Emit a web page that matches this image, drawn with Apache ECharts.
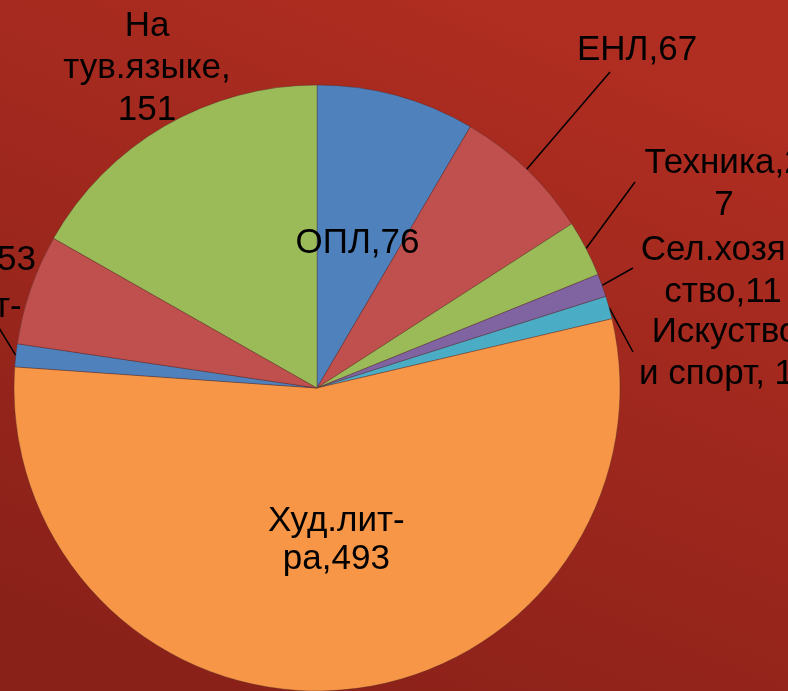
<!DOCTYPE html>
<html>
<head>
<meta charset="utf-8">
<script src="https://cdn.jsdelivr.net/npm/echarts@6/dist/echarts.min.js"></script>
<style>
  html, body { margin: 0; padding: 0; }
  #chart { width: 788px; height: 691px; }
</style>
</head>
<body>
<div id="chart"></div>
<script>
// Book fund by section
const categories = ['ОПЛ', 'ЕНЛ', 'Техника', 'Сел.хозяйство', 'Искуство и спорт', 'Худ.лит-ра', 'Справ.лит-ра', 'Дет.лит-ра', 'На тув.языке'];
const values = [76, 67, 27, 11, 11, 493, 11, 53, 151];
const separators = [',', ',', ',', ',', ', ', ',', ',', ',', ','];
// character positions where each label text wraps onto a new line
const wrapAt = [[], [], [9], [9], [8], [8], [10], [], [2, 13]];

const colors = ['#4F81BD', '#C0504D', '#9BBB59', '#8064A2', '#4BACC6', '#F79646', '#4F81BD', '#C0504D', '#9BBB59'];

function labelText(i) {
  const s = categories[i] + separators[i] + values[i];
  const cuts = [0].concat(wrapAt[i], [s.length]);
  const lines = [];
  for (let k = 0; k < cuts.length - 1; k++) lines.push(s.slice(cuts[k], cuts[k + 1]).trim());
  return lines.join('\n');
}

// placement of the outside labels: label anchor and end of the leader line
const outside = {
  1: { x: 637, y: 50, align: 'center', end: [610, 72] },
  2: { x: 724, y: 184, align: 'center', end: [635, 182] },
  3: { x: 723, y: 271, align: 'center', end: [633, 268] },
  4: { x: 725, y: 353, align: 'center', end: [633, 352] },
  6: { x: -68, y: 328, align: 'center', end: [-4, 323] },
  7: { x: 36, y: 260, align: 'right', end: null },
  8: { x: 147, y: 68, align: 'center', end: null }
};
// small nudges for the labels drawn inside their slices
const inside = {
  0: { dx: 0, dy: 4 },
  5: { dx: 7, dy: -2 }
};

const chart = echarts.init(document.getElementById('chart'), null, { renderer: 'canvas' });

const data = values.map((v, i) => {
  const isInside = inside[i] !== undefined;
  const hasLine = !isInside && outside[i] && outside[i].end;
  return {
    name: categories[i],
    value: v,
    itemStyle: { color: colors[i] },
    label: { position: isInside ? 'inside' : 'outside', lineHeight: isInside ? 38 : 42 },
    labelLine: { show: !!hasLine }
  };
});

chart.setOption({
  animation: false,
  backgroundColor: {
    type: 'linear', x: 0.65, y: 0, x2: 0.3, y2: 1,
    colorStops: [
      { offset: 0, color: '#B02D21' },
      { offset: 1, color: '#8A2119' }
    ]
  },
  series: [{
    type: 'pie',
    center: [317, 388],
    radius: 303,
    startAngle: 90,
    clockwise: true,
    avoidLabelOverlap: false,
    data: data,
    itemStyle: { borderColor: 'rgba(70,40,40,0.45)', borderWidth: 0.8 },
    label: {
      show: true,
      formatter: p => labelText(p.dataIndex),
      fontFamily: 'Liberation Sans, Arial, sans-serif',
      fontSize: 35,
      color: '#000',
      align: 'center'
    },
    labelLine: {
      lineStyle: { color: '#000', width: 1.5 },
      smooth: false
    },
    labelLayout: function (params) {
      const i = params.dataIndex;
      const o = outside[i];
      if (!o) {
        const n = inside[i] || { dx: 0, dy: 0 };
        return { align: 'center', verticalAlign: 'middle', dx: n.dx, dy: n.dy };
      }
      const res = { x: o.x, y: o.y, align: o.align, verticalAlign: 'middle' };
      if (o.end && params.labelLinePoints) {
        res.labelLinePoints = [params.labelLinePoints[0], o.end];
      }
      return res;
    }
  }]
});
</script>
</body>
</html>
